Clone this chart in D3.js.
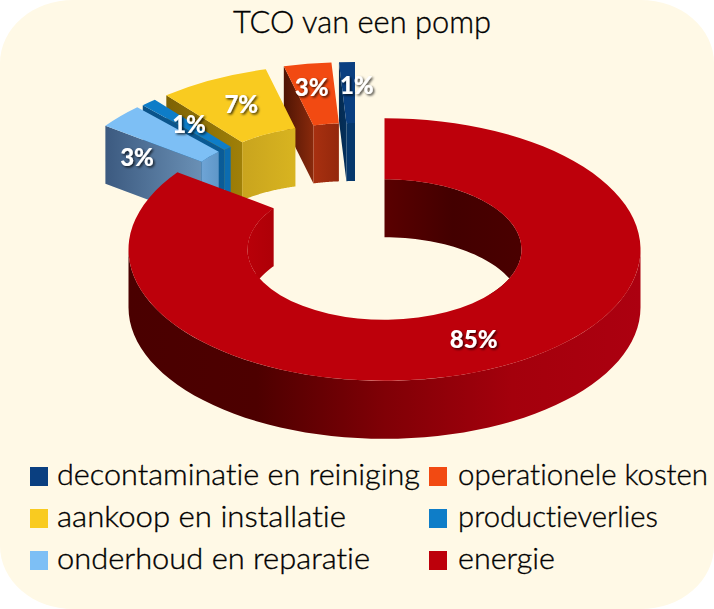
<!DOCTYPE html>
<html>
<head>
<meta charset="utf-8">
<script src="https://cdn.jsdelivr.net/npm/d3@7"></script>
<style>
	html, body { margin: 0; padding: 0; background: #fff; }
	svg { display: block; }
	text { font-family: Lato, "Open Sans", sans-serif; fill: #000; font-variant-ligatures: none; }
	.thin { stroke: #000; stroke-width: 0.35px; }
</style>
</head>
<body>
<script>
var title = "TCO van een pomp";
var categories = ["decontaminatie en reiniging", "operationele kosten", "aankoop en installatie", "productieverlies", "onderhoud en reparatie", "energie"];
var values = [1, 3, 7, 1, 3, 85];

var topColors = ["#0a3f80", "#f24a12", "#f9cb20", "#0e7dc8", "#7dbff5", "#bd000b"];
var capColors = [["#042a50", "#04305c"], ["#4f1504", "#8a2a0c"], ["#7d6204", "#a08008"], ["#0a5288", "#0a5c98"], ["#3c5a80", "#6a90b5"], ["#000", "#000"]];
var wallColors = [["#06386c", "#06386c"], ["#a83010", "#94280c"], ["#c9a41e", "#d8b420"], ["#0c6cb0", "#0c6cb0"], ["#6ea4d6", "#5f97c8"], ["#4a0000", "#5c0000"]];

// slice centres on the page, exploded ones sit up and left of the big ring
var centers = [[355, 193.3], [347.5, 193.5], [329.5, 196.5], [318, 201], [312.5, 203], [384.5, 249.5]];
var labelNudge = [[8, -7], [-5, -7], [1, -2], [1, -1], [-28, 20.6], [0, 0]];
var legendWidths = [363, 250, 289, 200, 313, 97];

var width = 714, height = 609;
var outerR = 256, innerR = 137, tilt = 0.513, depth = 58;

var svg = d3.select("body").append("svg").attr("width", width).attr("height", height);
var defs = svg.append("defs");

function gradient(id, colors) {
	var g = defs.append("linearGradient").attr("id", id);
	colors.forEach(function(c, i){
		g.append("stop").attr("offset", i / (colors.length - 1)).attr("stop-color", c);
	});
	return "url(#" + id + ")";
}

defs.append("filter").attr("id", "labelShadow")
	.attr("x", "-20%").attr("y", "-20%").attr("width", "150%").attr("height", "150%")
	.append("feDropShadow")
	.attr("dx", 1.5).attr("dy", 1.5).attr("stdDeviation", 0.8)
	.attr("flood-color", "#000").attr("flood-opacity", 0.75);

svg.append("rect")
	.attr("width", width).attr("height", height)
	.attr("rx", 73).attr("ry", 63)
	.attr("fill", "#fff9e6");

svg.append("text")
	.attr("class", "thin")
	.attr("x", 233).attr("y", 33)
	.attr("font-size", 32)
	.attr("font-weight", 300)
	.attr("textLength", 258).attr("lengthAdjust", "spacingAndGlyphs")
	.text(title);

// turning backwards from 12 o'clock gives the order of the legend
var pie = d3.pie().sort(null).startAngle(2 * Math.PI).endAngle(0);
var slices = pie(values);

var arc = d3.arc().innerRadius(innerR).outerRadius(outerR);
var line = d3.line();

function project(r, a, drop){
	return [r * Math.sin(a), -tilt * r * Math.cos(a) + drop];
}

// vertical band hanging below an arc of radius r
function arcWall(r, a0, a1){
	var steps = d3.range(0, 61).map(function(i){ return a0 + (a1 - a0) * i / 60; });
	var upper = steps.map(function(a){ return project(r, a, 0); });
	var lower = steps.slice().reverse().map(function(a){ return project(r, a, depth); });
	return line(upper.concat(lower)) + "Z";
}

// radial end face of a slice
function capWall(a){
	return line([project(outerR, a, 0), project(innerR, a, 0), project(innerR, a, depth), project(outerR, a, depth)]) + "Z";
}

var deg = Math.PI / 180;

slices.forEach(function(d, i){
	var from = Math.min(d.startAngle, d.endAngle);
	var to = Math.max(d.startAngle, d.endAngle);
	var g = svg.append("g").attr("transform", "translate(" + centers[i] + ")");

	if (i == 5){
		// big ring: far inner wall, left inner wall, then the outer wall in front
		g.append("path").attr("d", arcWall(innerR, from, 130 * deg))
			.attr("fill", gradient("innerFar", ["#5a0000", "#430000", "#4a0000"]));
		g.append("path").attr("d", arcWall(innerR, 250 * deg, to))
			.attr("fill", gradient("innerLeft", ["#b80009", "#ae0007"]));
		g.append("path").attr("d", arcWall(outerR, 90 * deg, 270 * deg))
			.attr("fill", gradient("outer", ["#4a0000", "#4d0000", "#800006", "#a4000c", "#ac0010"]));
	} else {
		g.append("path").attr("d", capWall(from))
			.attr("fill", gradient("cap" + i, capColors[i]));
		g.append("path").attr("d", arcWall(innerR, from, to))
			.attr("fill", gradient("wall" + i, wallColors[i]));
	}

	g.append("g").attr("transform", "scale(1," + tilt + ")")
		.append("path")
		.attr("d", arc(d))
		.attr("fill", topColors[i]);
});

// labels go on top of every slice
slices.forEach(function(d, i){
	var c = arc.centroid(d);
	svg.append("text")
		.attr("x", centers[i][0] + c[0] + labelNudge[i][0])
		.attr("y", centers[i][1] + c[1] * tilt + labelNudge[i][1])
		.attr("dy", "0.36em")
		.attr("text-anchor", "middle")
		.attr("font-size", 24)
		.attr("font-weight", 900)
		.attr("filter", "url(#labelShadow)")
		.style("fill", "#fff")
		.text(d3.format(".0f")(values[i]) + "%");
});

var legend = svg.selectAll(".legend").data(categories).enter().append("g")
	.attr("class", "legend")
	.attr("transform", function(d, i){
		return "translate(" + (i % 2 ? 429 : 30) + "," + (467 + 42 * Math.floor(i / 2)) + ")";
	});

legend.append("rect")
	.attr("width", 18).attr("height", 19)
	.attr("fill", function(d, i){ return topColors[i]; });

legend.append("text")
	.attr("class", "thin")
	.attr("x", function(d, i){ return i % 2 ? 29 : 27; })
	.attr("y", 18)
	.attr("font-size", 30)
	.attr("font-weight", 300)
	.attr("textLength", function(d, i){ return legendWidths[i]; })
	.attr("lengthAdjust", "spacingAndGlyphs")
	.text(function(d){ return d; });
</script>
</body>
</html>
